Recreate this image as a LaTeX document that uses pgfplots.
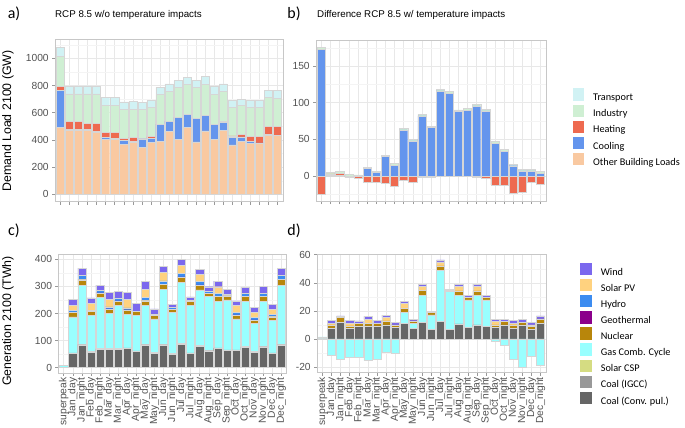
\documentclass[border=0pt]{standalone}
\usepackage{fontspec}
\setmainfont{Liberation Sans}
\newfontfamily\calibri{Carlito}
\usepackage{pgfplots}
\pgfplotsset{compat=1.18}
\usepackage{pgfplotstable}

\definecolor{transportc}{HTML}{D1F2F4}
\definecolor{industryc}{HTML}{CFEFD3}
\definecolor{heatingc}{HTML}{EE6A50}
\definecolor{coolingc}{HTML}{6495ED}
\definecolor{otherc}{HTML}{F9C9A1}
\definecolor{windc}{HTML}{7B68EE}
\definecolor{pvc}{HTML}{FFD27F}
\definecolor{hydroc}{HTML}{3C8CF0}
\definecolor{geoc}{HTML}{8B008B}
\definecolor{nucc}{HTML}{B8860B}
\definecolor{gasc}{HTML}{99FFFF}
\definecolor{cspc}{HTML}{D5DC82}
\definecolor{igccc}{HTML}{999999}
\definecolor{ccc}{HTML}{666666}

% a) demand load without temperature impacts (GW)
\pgfplotstableread{
x other cool heat ind trans
0 490 277 25 225 63
1 473 7 59 199 54
2 473 5 61 199 54
3 468 10 44 216 59
4 458 3 61 216 54
5 404 15 37 198 59
6 404 5 47 198 59
7 370 25 19 211 54
8 382 8 27 208 56
9 343 64 7 211 51
10 382 32 10 213 52
11 389 126 2 218 52
12 461 76 2 216 57
13 404 160 1 219 53
14 490 98 1 220 51
15 386 173 1 224 53
16 466 115 1 227 56
17 404 111 2 218 57
18 471 57 6 221 58
19 363 56 10 213 47
20 392 30 17 213 48
21 373 14 37 216 49
22 373 5 46 216 49
23 436 5 61 210 55
24 431 1 70 204 61
}\tablea

% b) difference (GW)
\pgfplotstableread{
x cool heatpos ind heatneg
0 173 0 2.5 -24.5
1 1 2 1.5 0
2 1 3 2 0
3 0 0 2 -2
4 0 0 1.5 -2.5
5 10 0 1.5 -9
6 4.5 0 1.5 -9
7 27 0 1.6 -10
8 15 0 2 -13.6
9 63 0 2 -5.5
10 48 0 2 -9
11 82 0 2 -1
12 66 0 2 -1
13 116 0 2.5 -0.4
14 113 0 2.5 -0.4
15 88.6 0 1.5 -0.4
16 90 0 1.8 -0.4
17 95.5 0 2.5 -2.3
18 89 0 2 -3.6
19 45 0 2 -12
20 34 0 2.5 -13
21 14 0 2 -23
22 7 0 2.5 -22
23 7 0 2.5 -8
24 4 0 2 -11
}\tableb

% c) generation (TWh)
\pgfplotstableread{
x cc igcc csp gas nuc geo hydro pv wind
0 1 0 0 8 0 0 0 0 0
1 53 2 0 133 15 0.8 9 18 21
2 84 3 0 218 19 0.8 17 0 26
3 57 2 0 133 15 0.8 5 25 20
4 68 2 0 190 15 0.8 9 0 20
5 68 2 0 130 16 0.8 8 27 26
6 68 2 0 160 16 0.8 11 0 23
7 71 2 0 123 17 0.8 7 31 26
8 60 2 0 130 15 0.8 2 0 28
9 84 3 0 142 18 0.8 12 30 28
10 54 2 0 124 12 0.8 5 0 19
11 84 3 0 203 18 0.8 12 31 21
12 50 2 0 152 11 0.8 6 0 12
13 86 3 0 226 19 0.8 13 31 21
14 53 2 0 176 13 0.8 5 0 12
15 80 3 0 204 18 0.8 12 27 19
16 62 2 0 198 12 0.8 6 0 18
17 71 2 0 173 16 0.8 11 25 21
18 64 2 0 184 15 0.8 6 0 17
19 64 2 0 114 14 0.8 9 25 18
20 76 2 0 168 16 0.8 11 0 24
21 57 2 0 105 12 0.8 8 19 19
22 77 2 0 167 16 0.8 11 0 26
23 53 2 0 121 12 0.8 9 17 19
24 84 3 0 218 21 0.8 15 0 25
}\tablec

% d) difference (TWh)
\pgfplotstableread{
x cc gas nuc pv wind gasneg
0 0.3 1.2 0 0 0 -0.5
1 7.6 0 2.4 1.2 1.8 -11.4
2 11.6 0 3.6 0 1.2 -14.2
3 7.6 0 1.7 1.9 1.8 -13
4 9.3 0 1.9 0 1.6 -13
5 9.3 0 1.9 2.8 2.0 -15.4
6 9.3 0 1.9 0 1.8 -14.5
7 10 0 2.8 2.6 1.6 -9.7
8 8 0 2 0 1.9 -10.5
9 11.2 7.6 3 3.6 1.6 0
10 7.4 3.8 1.6 0 1.2 0
11 11.6 19.7 3.1 2.9 1.7 0
12 6.9 10.2 1.7 0 0.9 0
13 12.3 36.4 3.3 3 1.3 0
14 6.9 26.8 0.7 0 1 0
15 10.7 20.6 2.9 3.1 1.7 0
16 8.3 19.5 1.9 0 1.2 0
17 10 21.3 2.9 3.1 1.7 0
18 8.8 19 1.9 0 1.2 0
19 8.3 0 1.7 2.3 1.7 -1.9
20 10 0 2.3 0 1.7 -4.3
21 7.6 0 2.4 1.2 1.8 -14.2
22 10 0 1.9 0 2.1 -20.2
23 6.9 0 1.9 1.2 1.9 -12.1
24 11.2 0 3 0 2.2 -18.5
}\tabled

\pgfplotsset{
  barsty/.style={
    scale only axis,
    ybar stacked, bar width=0.9,
    xmin=-0.6, xmax=24.6,
    every axis plot/.append style={draw=black!16, line width=0.45bp},
  },
  panel/.style={
    barsty,
    xtick={0,...,24},
    grid=both,
    major grid style={draw=black!9, line width=0.5bp},
    minor grid style={draw=black!4.5, line width=0.3bp},
    axis line style={draw=black!22, line width=0.6bp},
    tick style={draw=black!40, line width=0.5bp},
    major tick length=2.8bp, minor tick length=0bp,
    tick align=outside,
    xtick pos=left, ytick pos=left,
    ticklabel style={font=\fontsize{10.3}{12}\selectfont, text=black!68},
    /pgf/number format/assume math mode=true,
    /pgf/number format/1000 sep={},
  },
  negpanel/.style={barsty, hide axis},
  catlabels/.style={
    xticklabels={superpeak,Jan\_day,Jan\_night,Feb\_day,Feb\_night,Mar\_day,Mar\_night,Apr\_day,Apr\_night,May\_day,May\_night,Jun\_day,Jun\_night,Jul\_day,Jul\_night,Aug\_day,Aug\_night,Sep\_day,Sep\_night,Oct\_day,Oct\_night,Nov\_day,Nov\_night,Dec\_day,Dec\_night},
    x tick label style={rotate=90, anchor=east, inner sep=1.5bp},
  },
  lgsty/.style={
    legend style={draw=none, fill=none, inner sep=0pt, outer sep=0pt,
      font=\calibri\fontsize{10.3}{12}\selectfont, row sep=0pt,
      nodes={inner sep=0.9bp, text height=8.5bp, text depth=2.9bp},
      /tikz/every odd column/.append style={column sep=8.5bp}},
    legend cell align=left,
  },
}
\newcommand{\lgA}[1]{\addlegendimage{legend image code/.code={\fill[#1] (0bp,-2.1bp) rectangle (10bp,9.3bp);}}}
\newcommand{\lgC}[1]{\addlegendimage{legend image code/.code={\fill[#1] (0bp,-2.1bp) rectangle (11bp,9.3bp);}}}

\begin{document}
\begin{tikzpicture}
\path[use as bounding box] (0bp,0bp) rectangle (685bp,-428bp);

% ---------- a)
\begin{axis}[panel, at={(55bp,-39.3bp)}, anchor=north west, width=228bp, height=162.4bp,
  ymin=-54.3, ymax=1140, ytick={0,200,...,1000}, minor ytick={100,300,...,1100}, xticklabels={}]
\addplot[fill=otherc] table[x=x,y=other]{\tablea};
\addplot[fill=coolingc] table[x=x,y=cool]{\tablea};
\addplot[fill=heatingc] table[x=x,y=heat]{\tablea};
\addplot[fill=industryc] table[x=x,y=ind]{\tablea};
\addplot[fill=transportc] table[x=x,y=trans]{\tablea};
\end{axis}

% ---------- b)
\begin{axis}[panel, lgsty, at={(316bp,-40bp)}, anchor=north west, width=230bp, height=161.3bp,
  ymin=-34.5, ymax=185.5, ytick={0,50,100,150}, minor ytick={-25,25,75,125,175}, xticklabels={},
  legend style={at={(axis description cs:1.1187,0.700)}, anchor=north west}]
\lgA{transportc}\addlegendentry{Transport}
\lgA{industryc}\addlegendentry{Industry}
\lgA{heatingc}\addlegendentry{Heating}
\lgA{coolingc}\addlegendentry{Cooling}
\lgA{otherc}\addlegendentry{Other Building Loads}
\addplot[fill=coolingc] table[x=x,y=cool]{\tableb};
\addplot[fill=heatingc] table[x=x,y=heatpos]{\tableb};
\addplot[fill=industryc] table[x=x,y=ind]{\tableb};
\end{axis}
\begin{axis}[negpanel, at={(316bp,-40bp)}, anchor=north west, width=230bp, height=161.3bp,
  ymin=-34.5, ymax=185.5]
\addplot[fill=heatingc] table[x=x,y=heatneg]{\tableb};
\end{axis}

% ---------- c)
\begin{axis}[panel, catlabels, at={(58.3bp,-253.9bp)}, anchor=north west, width=228.4bp, height=119.2bp,
  ymin=-20, ymax=420, ytick={0,100,...,400}, minor ytick={50,150,250,350}]
\addplot[fill=ccc] table[x=x,y=cc]{\tablec};
\addplot[fill=igccc] table[x=x,y=igcc]{\tablec};
\addplot[fill=cspc] table[x=x,y=csp]{\tablec};
\addplot[fill=gasc] table[x=x,y=gas]{\tablec};
\addplot[fill=nucc] table[x=x,y=nuc]{\tablec};
\addplot[fill=geoc] table[x=x,y=geo]{\tablec};
\addplot[fill=hydroc] table[x=x,y=hydro]{\tablec};
\addplot[fill=pvc] table[x=x,y=pv]{\tablec};
\addplot[fill=windc] table[x=x,y=wind]{\tablec};
\end{axis}

% ---------- d)
\begin{axis}[panel, catlabels, lgsty, at={(317bp,-254.6bp)}, anchor=north west, width=229bp, height=118.1bp,
  ymin=-24.1, ymax=60.1, ytick={-20,0,20,40,60}, minor ytick={-10,10,30,50},
  legend style={at={(axis description cs:1.1485,0.931)}, anchor=north west}]
\lgC{windc}\addlegendentry{Wind}
\lgC{pvc}\addlegendentry{Solar PV}
\lgC{hydroc}\addlegendentry{Hydro}
\lgC{geoc}\addlegendentry{Geothermal}
\lgC{nucc}\addlegendentry{Nuclear}
\lgC{gasc}\addlegendentry{Gas Comb. Cycle}
\lgC{cspc}\addlegendentry{Solar CSP}
\lgC{igccc}\addlegendentry{Coal (IGCC)}
\lgC{ccc}\addlegendentry{Coal (Conv. pul.)}
\addplot[fill=ccc] table[x=x,y=cc]{\tabled};
\addplot[fill=gasc] table[x=x,y=gas]{\tabled};
\addplot[fill=nucc] table[x=x,y=nuc]{\tabled};
\addplot[fill=pvc] table[x=x,y=pv]{\tabled};
\addplot[fill=windc] table[x=x,y=wind]{\tabled};
\end{axis}
\begin{axis}[negpanel, at={(317bp,-254.6bp)}, anchor=north west, width=229bp, height=118.1bp,
  ymin=-24.1, ymax=60.1]
\addplot[fill=gasc] table[x=x,y=gasneg]{\tabled};
\end{axis}

% ---------- labels
\node[font=\calibri\fontsize{16}{18}\selectfont] at (14bp,-14bp) {a)};
\node[font=\calibri\fontsize{16}{18}\selectfont] at (294bp,-14bp) {b)};
\node[font=\calibri\fontsize{16}{18}\selectfont] at (14bp,-231bp) {c)};
\node[font=\calibri\fontsize{16}{18}\selectfont] at (294bp,-231bp) {d)};
\node[font=\fontsize{9.8}{11}\selectfont, anchor=west, inner sep=0pt] at (55bp,-15bp) {RCP 8.5 w/o temperature impacts};
\node[font=\fontsize{9.8}{11}\selectfont, anchor=west, inner sep=0pt] at (317bp,-15bp) {Difference RCP 8.5 w/ temperature impacts};
\node[font=\fontsize{12.4}{14}\selectfont, rotate=90] at (8bp,-121bp) {Demand Load 2100 (GW)};
\node[font=\fontsize{12.4}{14}\selectfont, rotate=90] at (8bp,-321bp) {Generation 2100 (TWh)};
\end{tikzpicture}
\end{document}
